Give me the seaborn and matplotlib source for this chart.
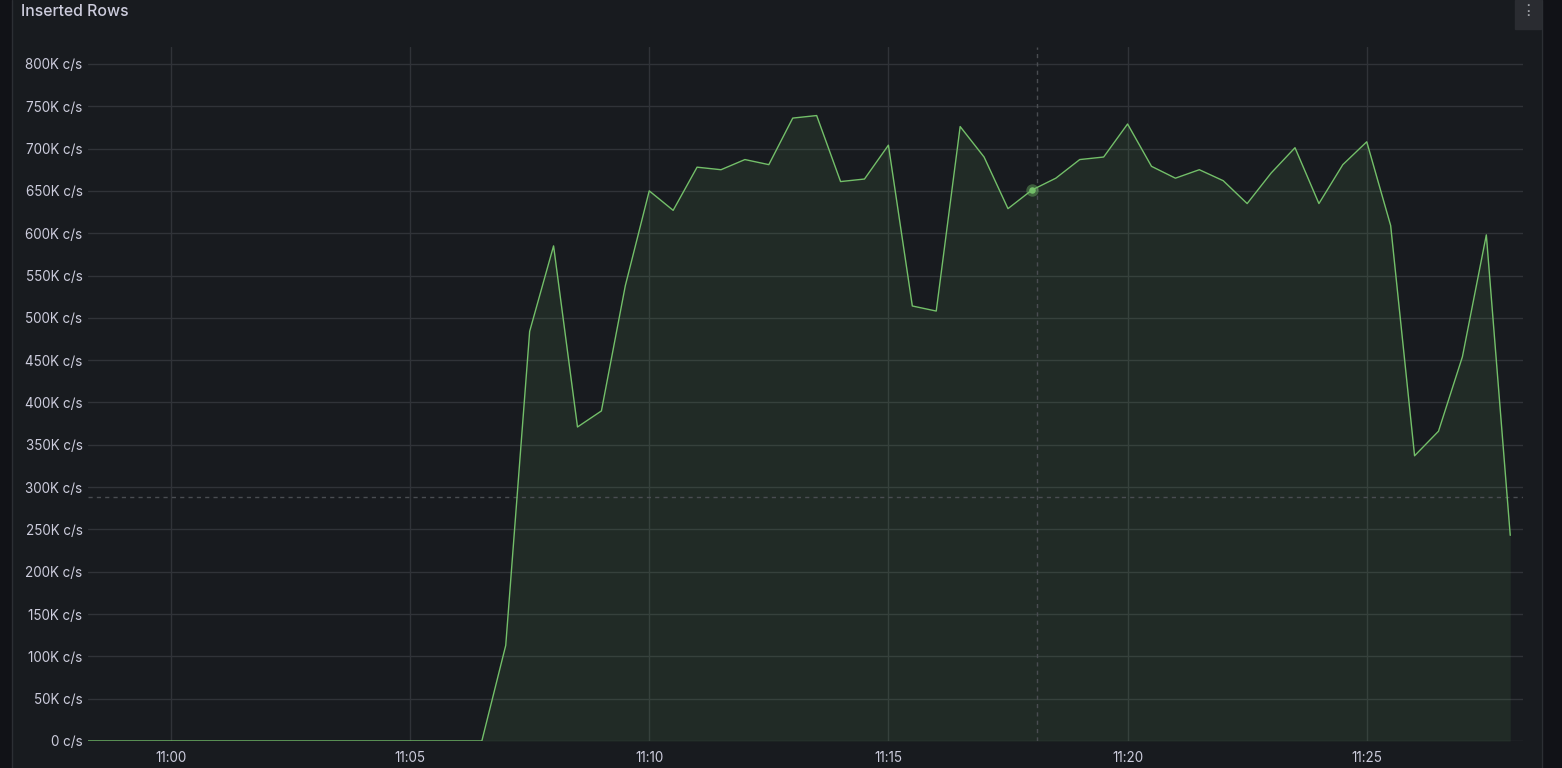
import matplotlib
matplotlib.use("Agg")
import matplotlib.pyplot as plt
import matplotlib.dates as mdates
from matplotlib.patches import Rectangle
from matplotlib.ticker import FuncFormatter, MultipleLocator
import seaborn as sns
import pandas as pd
import numpy as np

# samples every 30 s, values in rows per second
start = "2024-01-01 10:58:00"
zeros = [0] * 18  # 10:58:00 .. 11:06:30
active = [113, 484, 585, 371, 390, 538, 650, 627, 678, 675, 687, 681, 736, 739,
          661, 664, 704, 514, 508, 726, 690, 629, 651, 665, 687, 690, 729, 679,
          665, 675, 662, 635, 671, 701, 635, 681, 708, 609, 337, 366, 454, 598, 243]
values = np.array(zeros + active) * 1000
times = pd.date_range(start, periods=len(values), freq="30s")

hover_time = pd.Timestamp("2024-01-01 11:18:00")
hover_value = 651000
cursor_time = pd.Timestamp("2024-01-01 11:18:07")
cursor_value = 288000

df = pd.DataFrame({"time": times, "rows": values})

bg = "#181b1f"
text_col = "#ccccdc"
grid_col = "#303338"
green = "#73bf69"

sns.set_theme(style="dark")
plt.rcParams["font.family"] = ["Inter", "DejaVu Sans"]

fig = plt.figure(figsize=(15.62, 7.68), dpi=100, facecolor=bg)
W, H = 1562, 768

# side strips / panel border
fig.patches.append(Rectangle((0, 0), 11 / W, 1, transform=fig.transFigure, color="#111217", zorder=0))
fig.patches.append(Rectangle((1542 / W, 0), 20 / W, 1, transform=fig.transFigure, color="#111217", zorder=0))
fig.lines.append(plt.Line2D([11.5 / W, 11.5 / W], [0, 1], transform=fig.transFigure, color="#2c2f34", lw=1))
fig.lines.append(plt.Line2D([1541.5 / W, 1541.5 / W], [0, 1], transform=fig.transFigure, color="#2c2f34", lw=1))
# menu button
fig.patches.append(Rectangle((1515 / W, 1 - 29 / H), 26 / W, 29 / H, transform=fig.transFigure,
                             color="#2a2c31", zorder=1))
for dy in (5.5, 10.5, 15.5):
    fig.text(1528 / W, 1 - dy / H, "\u25aa", color="#9fa1a7", fontsize=4.5, ha="center", va="center")

fig.text(21 / W, 1 - 11 / H, "Inserted Rows", color=text_col, fontsize=11.4, fontweight="medium",
         ha="left", va="center")

ax = fig.add_axes([88 / W, 27 / H, (1523 - 88) / W, (741 - 47) / H])
ax.set_facecolor(bg)

ax.fill_between(df["time"], df["rows"], 0, color=green, alpha=0.1, lw=0, zorder=1)
sns.lineplot(data=df, x="time", y="rows", ax=ax, color=green, lw=1, zorder=3)

# hover crosshair
ax.axvline(cursor_time, color="#4a4d52", lw=1, ls=(0, (3, 3)), zorder=2)
ax.axhline(cursor_value, color="#4a4d52", lw=1, ls=(0, (3, 3)), zorder=2)
ax.scatter([hover_time], [hover_value], s=80, color=green, alpha=0.4, lw=0, zorder=4)
ax.scatter([hover_time], [hover_value], s=22, color=green, lw=0, zorder=5)

ax.set_xlim(pd.Timestamp("2024-01-01 10:58:16"), pd.Timestamp("2024-01-01 11:28:16"))
ax.set_ylim(0, 820000)

ax.yaxis.set_major_locator(MultipleLocator(50000))
ax.yaxis.set_major_formatter(FuncFormatter(lambda v, p: "0 c/s" if v == 0 else f"{v / 1000:.0f}K c/s"))
ax.xaxis.set_major_locator(mdates.MinuteLocator(byminute=range(0, 60, 5)))
ax.xaxis.set_major_formatter(mdates.DateFormatter("%H:%M"))

ax.grid(True, color=grid_col, lw=1)
ax.set_axisbelow(True)
for s in ax.spines.values():
    s.set_visible(False)
ax.tick_params(axis="both", colors=text_col, labelsize=9.7, length=0)
ax.tick_params(axis="y", pad=4)
ax.tick_params(axis="x", pad=7.5)
ax.set_xlabel("")
ax.set_ylabel("")

fig.savefig("out.png", dpi=100, facecolor=bg)
